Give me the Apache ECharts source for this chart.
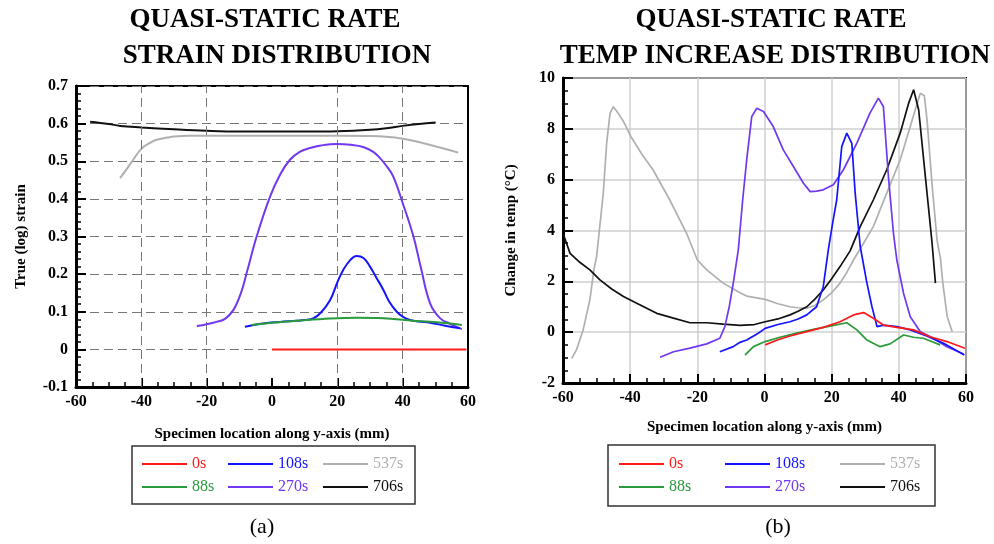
<!DOCTYPE html>
<html>
<head>
<meta charset="utf-8">
<script src="https://cdn.jsdelivr.net/npm/echarts@6/dist/echarts.min.js"></script>
<style>
html,body{margin:0;padding:0;background:#fff;}
#c{width:994px;height:544px;}
</style>
</head>
<body>
<div id="c"></div>
<script>
// ---------- DATA ----------
var seriesNames = ['0s', '88s', '108s', '270s', '537s', '706s'];
var seriesColors = ['#ff1a1a', '#2a9a3a', '#1414ff', '#7038f0', '#b0b0b0', '#111111'];

var xTicks = [-60, -40, -20, 0, 20, 40, 60];
var strainTicks = [-0.1, 0, 0.1, 0.2, 0.3, 0.4, 0.5, 0.6, 0.7];
var tempTicks = [-2, 0, 2, 4, 6, 8, 10];
var strainGridX = [-40, -20, 20, 40];

// (a) strain distribution
var a0x = [0, 59.5];
var a0y = [0, 0];
var a88x = [-6.2, 0, 7.5, 17.8, 25.9, 34.1, 42.3, 50.4, 58.1];
var a88y = [0.065, 0.071, 0.076, 0.082, 0.084, 0.083, 0.077, 0.072, 0.065];
var a108x = [-8.3, -2.7, 2.5, 7.5, 10, 12.6, 15, 17.8, 20, 21.8, 24, 25.9, 28, 30, 32, 34.1, 36, 38.2, 40, 42.3, 45, 48.4, 53, 57.5];
var a108y = [0.06, 0.069, 0.073, 0.076, 0.078, 0.082, 0.098, 0.131, 0.178, 0.211, 0.238, 0.248, 0.243, 0.22, 0.19, 0.158, 0.125, 0.10, 0.087, 0.078, 0.074, 0.071, 0.063, 0.056];
var a270x = [-23, -20, -17, -14.4, -11.8, -9.5, -7.7, -4.7, -0.6, 2.5, 5.5, 8.5, 11.6, 15, 20, 24, 27.9, 31, 33, 35, 37.1, 40, 43.3, 45.5, 48.4, 51.4, 54.5, 58.1];
var a270y = [0.062, 0.067, 0.073, 0.081, 0.105, 0.150, 0.205, 0.30, 0.406, 0.465, 0.504, 0.525, 0.535, 0.542, 0.546, 0.544, 0.538, 0.525, 0.509, 0.488, 0.46, 0.389, 0.30, 0.22, 0.122, 0.083, 0.068, 0.054];
var a537x = [-46.5, -44, -42.5, -40, -37.5, -35.3, -32, -30, -25, -20, -10, 0, 10, 20, 30, 35, 40, 44, 48.4, 52, 57];
var a537y = [0.455, 0.485, 0.504, 0.533, 0.548, 0.557, 0.563, 0.566, 0.568, 0.568, 0.568, 0.568, 0.568, 0.568, 0.567, 0.565, 0.560, 0.553, 0.543, 0.535, 0.523];
var a706x = [-55.7, -50, -46.5, -40, -30, -20, -10, 0, 10, 20, 30, 35, 40, 45, 50.1];
var a706y = [0.605, 0.599, 0.594, 0.590, 0.585, 0.581, 0.579, 0.579, 0.579, 0.580, 0.584, 0.588, 0.594, 0.599, 0.603];

// (b) temperature increase distribution
var b0x = [0.2, 4, 7.6, 12.6, 17.5, 22.5, 26.5, 29.5, 32.4, 35.4, 39.4, 44.4, 49.3, 54.3, 59.7];
var b0y = [-0.5, -0.3, -0.15, 0.02, 0.19, 0.41, 0.68, 0.77, 0.55, 0.28, 0.19, 0.09, -0.18, -0.37, -0.63];
var b88x = [-5.8, -3.3, 0.2, 4.6, 9.6, 14.6, 19.5, 24.5, 27.5, 30.5, 34.4, 37.4, 41.4, 44.4, 47.3, 52.3];
var b88y = [-0.9, -0.57, -0.37, -0.2, -0.04, 0.11, 0.24, 0.37, 0.09, -0.31, -0.57, -0.46, -0.11, -0.2, -0.24, -0.5];
var b108x = [-13.3, -9.3, -7.3, -5.3, -2, 0.2, 4, 7.6, 10, 12.6, 15.5, 17.5, 19, 20.3, 21.5, 23, 24.5, 25, 26, 27, 28.5, 30.5, 32, 33.5, 35.4, 39.4, 43.4, 48.3, 53.3, 59.5];
var b108y = [-0.77, -0.57, -0.4, -0.31, -0.05, 0.15, 0.3, 0.41, 0.52, 0.68, 1.0, 1.79, 3.24, 4.3, 5.2, 7.3, 7.83, 7.9, 7.43, 5.47, 3.37, 1.93, 1.0, 0.22, 0.28, 0.22, 0.09, -0.15, -0.44, -0.9];
var b270x = [-31.1, -27.1, -22.2, -17.2, -13.3, -11.8, -10.5, -9.3, -7.8, -6.5, -5.3, -3.8, -2.3, -0.3, 2.6, 5.6, 8.6, 11.6, 13.6, 15.5, 17.5, 20.5, 23.5, 27.5, 31.4, 33.9, 35.4, 36.9, 38.4, 39.4, 41.4, 43.4, 46.4, 50.3, 54.3, 59.3];
var b270y = [-0.99, -0.77, -0.63, -0.46, -0.24, 0.22, 1.0, 1.93, 3.24, 5.2, 6.78, 8.48, 8.81, 8.68, 8.09, 7.17, 6.52, 5.86, 5.53, 5.55, 5.6, 5.8, 6.39, 7.44, 8.62, 9.21, 8.88, 6.12, 3.89, 2.84, 1.53, 0.61, 0.02, -0.24, -0.57, -0.86];
var b537x = [-57.4, -56, -54, -52, -50.8, -50, -48, -47, -46, -45, -43.5, -42, -39.8, -36.5, -33.2, -28.2, -23.2, -20, -17.2, -12.3, -7.3, -5.3, 0.2, 4, 7.6, 10, 12.6, 15, 17.5, 20, 22.5, 24.5, 26.5, 29.5, 32.4, 36.4, 40.4, 43.4, 45, 46.4, 46.9, 47.6, 48.4, 49.9, 51.4, 52.4, 53.1, 54.4, 55.9];
var b537y = [-1.03, -0.7, 0.09, 1.27, 2.45, 2.97, 5.47, 7.43, 8.61, 8.87, 8.6, 8.29, 7.70, 7.0, 6.39, 5.2, 3.89, 2.84, 2.45, 1.93, 1.55, 1.42, 1.29, 1.12, 1.0, 0.96, 0.94, 1.05, 1.27, 1.55, 1.93, 2.35, 2.84, 3.5, 4.15, 5.47, 6.78, 8.09, 8.8, 9.4, 9.47, 9.3, 8.35, 5.8, 3.6, 2.9, 1.93, 0.61, 0.02];
var b706x = [-60, -57.9, -55, -52, -49, -45.5, -42, -37, -32.1, -27.1, -22.2, -17.2, -12.3, -7.3, -3, 0.2, 4, 7.6, 10, 12.6, 15, 17.5, 20, 22.5, 25.5, 28.5, 32.4, 36.4, 40.4, 42.9, 44.4, 45.9, 47.9, 49.9, 50.9];
var b706y = [3.89, 3.1, 2.75, 2.45, 2.06, 1.7, 1.40, 1.07, 0.74, 0.55, 0.37, 0.37, 0.32, 0.27, 0.3, 0.41, 0.52, 0.68, 0.82, 1.0, 1.3, 1.66, 2.1, 2.58, 3.2, 4.15, 5.2, 6.39, 7.83, 9.0, 9.54, 8.75, 6.12, 3.5, 1.93];

// ---------- BUILD ----------
function pairs(xs, ys) { return xs.map(function (x, i) { return [x, ys[i]]; }); }
var aData = [pairs(a0x, a0y), pairs(a88x, a88y), pairs(a108x, a108y), pairs(a270x, a270y), pairs(a537x, a537y), pairs(a706x, a706y)];
var bData = [pairs(b0x, b0y), pairs(b88x, b88y), pairs(b108x, b108y), pairs(b270x, b270y), pairs(b537x, b537y), pairs(b706x, b706y)];

var SERIF = "'Liberation Serif', 'Times New Roman', serif";
var chart = echarts.init(document.getElementById('c'), null, { renderer: 'canvas' });

function xAxisCfg(gi, splitShow) {
  return {
    gridIndex: gi, type: 'value', min: xTicks[0], max: xTicks[xTicks.length - 1], interval: 20,
    name: 'Specimen location along y-axis (mm)', nameLocation: 'middle', nameGap: gi === 0 ? 40 : 37,
    nameTextStyle: { fontFamily: SERIF, fontWeight: 'bold', fontSize: 15, color: '#000' },
    axisLine: { onZero: false, lineStyle: { color: '#000', width: 3 } },
    axisTick: { inside: true, length: 9, lineStyle: { color: '#000', width: 2 } },
    minorTick: { show: true, splitNumber: 4, length: 5, lineStyle: { color: '#000', width: 1.5 } },
    axisLabel: { fontFamily: SERIF, fontWeight: 'bold', fontSize: 16, color: '#000', margin: 7 },
    splitLine: splitShow ? { show: true, lineStyle: { color: '#cfcfcf', width: 1.5 } } : { show: false }
  };
}

var option = {
  animation: false,
  backgroundColor: '#fff',
  grid: [
    { left: 76, top: 86, width: 392, height: 301, show: true, borderColor: '#000', borderWidth: 2, backgroundColor: 'rgba(0,0,0,0)' },
    { left: 563, top: 78, width: 403, height: 305, show: true, borderColor: '#000', borderWidth: 2, backgroundColor: 'rgba(0,0,0,0)' }
  ],
  xAxis: [xAxisCfg(0, false), xAxisCfg(1, true)],
  yAxis: [
    {
      gridIndex: 0, type: 'value', min: strainTicks[0], max: strainTicks[strainTicks.length - 1], interval: 0.1,
      name: 'True (log) strain', nameLocation: 'middle', nameGap: 47,
      nameTextStyle: { fontFamily: SERIF, fontWeight: 'bold', fontSize: 15, color: '#000' },
      axisLine: { show: true, onZero: false, lineStyle: { color: '#000', width: 3 } },
      axisTick: { inside: true, length: 10, lineStyle: { color: '#000', width: 2 } },
      minorTick: { show: true, splitNumber: 5, length: 5, lineStyle: { color: '#000', width: 1.5 } },
      axisLabel: { fontFamily: SERIF, fontWeight: 'bold', fontSize: 16, color: '#000', margin: 8,
        formatter: function (v) { return String(Math.round(v * 10) / 10); } },
      splitLine: { show: true, lineStyle: { color: '#777', width: 1, type: [9, 5] } }
    },
    {
      gridIndex: 1, type: 'value', min: tempTicks[0], max: tempTicks[tempTicks.length - 1], interval: 2,
      name: 'Change in temp (°C)', nameLocation: 'middle', nameGap: 44,
      nameTextStyle: { fontFamily: SERIF, fontWeight: 'bold', fontSize: 15, color: '#000' },
      axisLine: { show: true, onZero: false, lineStyle: { color: '#000', width: 3 } },
      axisTick: { inside: true, length: 10, lineStyle: { color: '#000', width: 2 } },
      minorTick: { show: true, splitNumber: 4, length: 5, lineStyle: { color: '#000', width: 1.5 } },
      axisLabel: { fontFamily: SERIF, fontWeight: 'bold', fontSize: 16, color: '#000', margin: 8 },
      splitLine: { show: true, lineStyle: { color: '#cfcfcf', width: 1.5 } }
    }
  ],
  legend: [],
  graphic: [],
  series: []
};

// draw order: gray, black, purple, blue, green, red
var order = [4, 5, 3, 2, 1, 0];
order.forEach(function (k, j) {
  var s = {
    name: seriesNames[k], type: 'line', xAxisIndex: 0, yAxisIndex: 0,
    data: aData[k], showSymbol: false, symbol: 'none', smooth: 0.4,
    lineStyle: { color: seriesColors[k], width: 2 }, itemStyle: { color: seriesColors[k] },
    z: 3 + j
  };
  if (k === 0) {
    s.markLine = {
      silent: true, symbol: ['none', 'none'], label: { show: false },
      lineStyle: { color: '#777', width: 1, type: [9, 5] },
      data: strainGridX.map(function (v) { return { xAxis: v }; })
    };
    s.z = 2;
  }
  option.series.push(s);
});
order.forEach(function (k, j) {
  option.series.push({
    name: seriesNames[k], type: 'line', xAxisIndex: 1, yAxisIndex: 1,
    data: bData[k], showSymbol: false, symbol: 'none', smooth: false,
    lineStyle: { color: seriesColors[k], width: 1.7 }, itemStyle: { color: seriesColors[k] },
    z: 3 + j
  });
});

// legends (one per item, laid out in a 3x2 table)
var legendOrder = [[0, 2, 4], [1, 3, 5]];
var legendColsA = [142, 228, 323], legendColsB = [619, 725, 840];
var legendRows = [465, 488];
function addLegends(cols) {
  legendOrder.forEach(function (row, r) {
    row.forEach(function (k, c) {
      option.legend.push({
        data: [{ name: seriesNames[k], textStyle: { color: seriesColors[k] } }],
        left: cols[c], top: legendRows[r] - 9, padding: 0,
        icon: 'rect', itemWidth: 45, itemHeight: 2, selectedMode: false,
        textStyle: { fontFamily: SERIF, fontSize: 16, color: seriesColors[k] }
      });
    });
  });
}
addLegends(legendColsA);
addLegends(legendColsB);

function txt(t, x, y, font) {
  return { type: 'text', x: x, y: y, silent: true,
    style: { text: t, font: font, fill: '#000', align: 'center', verticalAlign: 'middle' } };
}
var TF = "bold 27px 'Liberation Serif', 'Times New Roman', serif";
option.graphic = [
  txt('QUASI-STATIC RATE', 265, 20, TF),
  txt('STRAIN DISTRIBUTION', 277, 56, TF),
  txt('QUASI-STATIC RATE', 771, 20, TF),
  txt('TEMP INCREASE DISTRIBUTION', 775, 56, TF),
  txt('(a)', 262, 527, "22px 'Liberation Serif', 'Times New Roman', serif"),
  txt('(b)', 778, 527, "22px 'Liberation Serif', 'Times New Roman', serif"),
  { type: 'rect', silent: true, shape: { x: 132, y: 446, width: 283, height: 58 }, style: { fill: 'none', stroke: '#333', lineWidth: 1.5 } },
  { type: 'rect', silent: true, shape: { x: 608, y: 445, width: 327, height: 61 }, style: { fill: 'none', stroke: '#333', lineWidth: 1.5 } }
];

chart.setOption(option);
</script>
</body>
</html>
